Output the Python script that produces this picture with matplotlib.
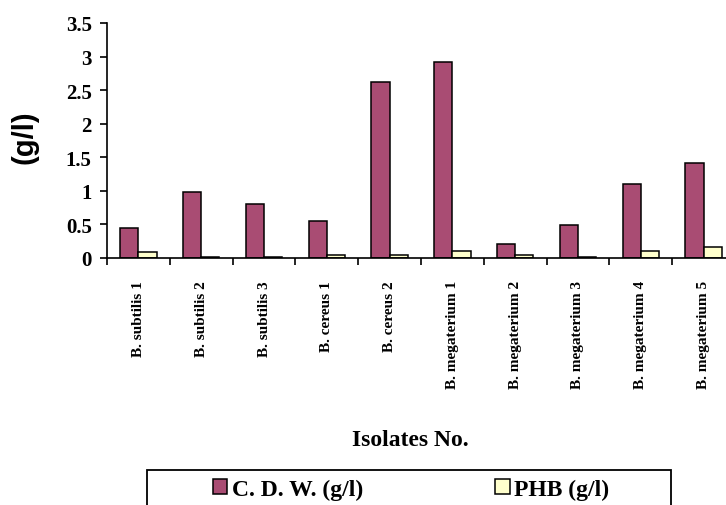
import matplotlib
matplotlib.use("Agg")
import matplotlib.pyplot as plt
import numpy as np
from matplotlib.patches import Rectangle

categories = ["B. subtilis 1", "B. subtilis 2", "B. subtilis 3", "B. cereus 1", "B. cereus 2",
              "B. megaterium 1", "B. megaterium 2", "B. megaterium 3", "B. megaterium 4", "B. megaterium 5"]
cdw = [0.45, 0.99, 0.81, 0.55, 2.62, 2.92, 0.21, 0.49, 1.10, 1.41]
phb = [0.09, 0.01, 0.01, 0.04, 0.04, 0.11, 0.04, 0.01, 0.10, 0.16]
yticks = [0, 0.5, 1, 1.5, 2, 2.5, 3, 3.5]
ytick_labels = ["0", "0.5", "1", "1.5", "2", "2.5", "3", "3.5"]

W, H = 726, 506
fig = plt.figure(figsize=(W / 100, H / 100), dpi=100)
ax = fig.add_axes([107 / W, (H - 259) / H, 628 / W, 235 / H])

serif = "Liberation Serif"
x = np.arange(len(categories))
bw = 0.29
c1 = "#A94C73"
c2 = "#FFFFCC"
ax.bar(x - bw / 2, cdw, bw, color=c1, edgecolor="black", linewidth=1.1, label="C. D. W. (g/l)")
ax.bar(x + bw / 2, phb, bw, color=c2, edgecolor="black", linewidth=1.1, label="PHB (g/l)")

ax.set_xlim(-0.5, len(categories) - 0.5)
ax.set_ylim(0, 3.5)
for s in ["top", "right"]:
    ax.spines[s].set_visible(False)
for s in ["left", "bottom"]:
    ax.spines[s].set_linewidth(1.2)

ax.set_yticks(yticks)
ax.set_yticklabels(ytick_labels, fontfamily=serif, fontweight="bold", fontsize=15)
ax.tick_params(axis="y", direction="out", length=5, width=1.2, pad=6)

ax.set_xticks(x)
ax.set_xticklabels(categories, rotation=90, fontfamily=serif, fontweight="bold", fontsize=11)
ax.tick_params(axis="x", which="major", length=0, pad=16)
ax.set_xticks(np.arange(-0.5, len(categories)), minor=True)
ax.tick_params(axis="x", which="minor", direction="out", length=5, width=1.2)

fig.text(24 / W, 1 - 137.5 / H, "(g/l)", rotation=90, ha="center", va="center",
         fontfamily="Liberation Sans", fontweight="bold", fontsize=21)
fig.text(410.5 / W, 1 - 440.5 / H, "Isolates No.", ha="center", va="center",
         fontfamily=serif, fontweight="bold", fontsize=17)

# legend frame
fig.patches.append(Rectangle((147 / W, -0.05), (671 - 147) / W, (H - 471) / H + 0.05,
                             transform=fig.transFigure, fill=False, edgecolor="black",
                             linewidth=1.3, figure=fig))
handles, labels = ax.get_legend_handles_labels()
fig.legend(handles, labels, loc="center left", bbox_to_anchor=(213 / W, 1 - 490 / H), ncol=2,
           frameon=False, prop={"family": serif, "weight": "bold", "size": 17},
           handlelength=0.6, handleheight=0.6, handletextpad=0.2, columnspacing=5.6,
           borderpad=0, borderaxespad=0)

fig.savefig("out.png", dpi=100)
